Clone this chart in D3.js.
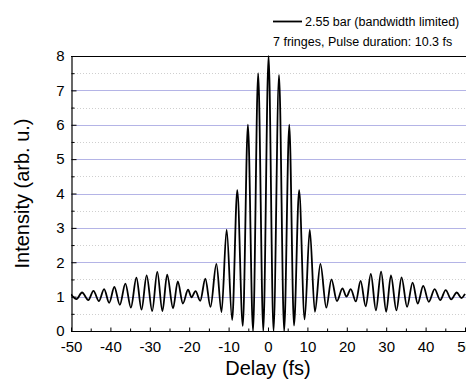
<!DOCTYPE html>
<html>
<head>
<meta charset="utf-8">
<script src="https://cdn.jsdelivr.net/npm/d3@7"></script>
<style>
  html, body { margin: 0; padding: 0; background: #fff; }
  svg { display: block; font-family: "Liberation Sans", Arial, sans-serif; }
</style>
</head>
<body>
<svg id="chart" width="466" height="381"></svg>
<script>
// Extrema of the autocorrelation trace (delay in fs, intensity in arb. u.)
const delays = [-50, -48.6, -47.2, -45.6, -44.3, -42.9, -41.6, -40.3, -39.0, -37.6, -36.2, -34.8,
  -33.4, -32.1, -30.8, -29.4, -28.1, -26.8, -25.6, -24.1, -22.9, -21.6, -20.3, -19.4, -18.4, -17.2,
  -15.9, -14.6, -13.1, -11.8, -10.5, -9.1, -7.8, -6.4, -5.1, -3.8, -2.5, -1.2, 0.15, 1.4, 2.8, 4.1,
  5.4, 6.6, 7.9, 9.3, 10.6, 11.9, 13.3, 14.8, 16.1, 17.5, 18.9, 19.9, 21.0, 22.3, 23.5, 24.8, 26.1,
  27.4, 28.7, 30.0, 31.2, 32.6, 33.9, 35.3, 36.7, 38.0, 39.4, 40.8, 42.3, 43.7, 45.1, 46.5, 47.9,
  49.1, 50];
const intensity = [1.07, 0.93, 1.12, 0.90, 1.17, 0.87, 1.22, 0.82, 1.28, 0.76, 1.38, 0.68,
  1.55, 0.62, 1.62, 0.58, 1.72, 0.58, 1.64, 0.66, 1.44, 0.80, 1.20, 0.98, 1.16, 0.88,
  1.52, 0.70, 1.95, 0.55, 2.95, 0.32, 4.10, 0.15, 6.00, 0.00, 7.50, 0.00, 8.00, 0.00, 7.45, 0.00,
  6.00, 0.16, 4.10, 0.34, 2.95, 0.56, 1.95, 0.68, 1.50, 0.87, 1.24, 1.00, 1.22, 0.86, 1.46, 0.72, 1.66,
  0.60, 1.73, 0.56, 1.62, 0.60, 1.56, 0.70, 1.41, 0.80, 1.31, 0.85, 1.22, 0.90, 1.19, 0.92, 1.12,
  0.96, 1.08];

const xTicks = [-50, -40, -30, -20, -10, 0, 10, 20, 30, 40, 50];
const xMinorTicks = [-45, -35, -25, -15, -5, 5, 15, 25, 35, 45];
const yTicks = [0, 1, 2, 3, 4, 5, 6, 7, 8];
const yMinorTicks = [0.5, 1.5, 2.5, 3.5, 4.5, 5.5, 6.5, 7.5];
const legendLabel = "2.55 bar (bandwidth limited)";
const legendNote = "7 fringes, Pulse duration: 10.3 fs";
const xTitle = "Delay (fs)";
const yTitle = "Intensity (arb. u.)";

const svg = d3.select("#chart");
const x = d3.scaleLinear().domain([-50, 50]).range([71, 465]);
const y = d3.scaleLinear().domain([0, 8]).range([331, 56]);
const xRight = 466;

// minor dotted gridlines
svg.append("g").selectAll("line").data(yMinorTicks).join("line")
  .attr("x1", x(-50)).attr("x2", xRight)
  .attr("y1", d => Math.round(y(d)) + 0.5).attr("y2", d => Math.round(y(d)) + 0.5)
  .attr("stroke", "#cfcfcf").attr("stroke-width", 1).attr("stroke-dasharray", "1,2");

// major gridlines
svg.append("g").selectAll("line").data(yTicks.filter(d => d > 0 && d < 8)).join("line")
  .attr("x1", x(-50)).attr("x2", xRight)
  .attr("y1", d => Math.round(y(d)) + 0.5).attr("y2", d => Math.round(y(d)) + 0.5)
  .attr("stroke", "#b4b4e6").attr("stroke-width", 1.2);

// data trace
svg.append("defs").append("clipPath").attr("id", "clip")
  .append("rect").attr("x", x(-50)).attr("y", y(8) - 1).attr("width", xRight - x(-50)).attr("height", y(0) - y(8) + 1);

const pts = delays.map((d, i) => [d, intensity[i]]);
const line = d3.line().x(d => x(d[0])).y(d => y(d[1])).curve(d3.curveMonotoneX);
svg.append("path").datum(pts)
  .attr("clip-path", "url(#clip)")
  .attr("d", line).attr("fill", "none").attr("stroke", "#000").attr("stroke-width", 1.8)
  .attr("stroke-linejoin", "round");

// top border
svg.append("line").attr("x1", x(-50)).attr("x2", xRight)
  .attr("y1", Math.round(y(8)) + 0.5).attr("y2", Math.round(y(8)) + 0.5)
  .attr("stroke", "#000").attr("stroke-width", 1.2);

// x axis
const gx = svg.append("g").attr("transform", `translate(0,${Math.round(y(0)) + 0.5})`)
  .call(d3.axisBottom(x).tickValues(xTicks).tickSize(-4).tickSizeOuter(0).tickPadding(10)
    .tickFormat(d3.format("d")));
gx.select(".domain").attr("d", `M${x(-50)},0H${xRight}`).attr("stroke-width", 1.2);
gx.selectAll("text").attr("font-size", 15).attr("fill", "#000")
  .attr("font-family", "Liberation Sans, Arial, sans-serif")
  .text(d => d < 0 ? "-" + Math.abs(d) : d);
svg.append("g").attr("transform", `translate(0,${Math.round(y(0)) + 0.5})`)
  .call(d3.axisBottom(x).tickValues(xMinorTicks).tickSize(-3).tickFormat(""))
  .select(".domain").remove();

// y axis
const gy = svg.append("g").attr("transform", `translate(${Math.round(x(-50)) + 0.5},0)`)
  .call(d3.axisLeft(y).tickValues(yTicks).tickSize(-5).tickSizeOuter(0).tickPadding(7));
gy.select(".domain").attr("stroke-width", 1.2);
gy.selectAll("text").attr("font-size", 15).attr("fill", "#000")
  .attr("font-family", "Liberation Sans, Arial, sans-serif");
svg.append("g").attr("transform", `translate(${Math.round(x(-50)) + 0.5},0)`)
  .call(d3.axisLeft(y).tickValues(yMinorTicks).tickSize(-3).tickFormat(""))
  .select(".domain").remove();

// axis titles
svg.append("text").attr("x", x(0)).attr("y", 375).attr("text-anchor", "middle")
  .attr("font-size", 20).text(xTitle);
svg.append("text").attr("transform", `translate(29,${(y(0) + y(8)) / 2}) rotate(-90)`)
  .attr("text-anchor", "middle").attr("font-size", 20).text(yTitle);

// legend
svg.append("line").attr("x1", 273).attr("x2", 302).attr("y1", 21.5).attr("y2", 21.5)
  .attr("stroke", "#000").attr("stroke-width", 1.8);
svg.append("text").attr("x", 305).attr("y", 26).attr("font-size", 12.5).text(legendLabel);
svg.append("text").attr("x", 273).attr("y", 45.5).attr("font-size", 12.5).text(legendNote);
</script>
</body>
</html>
